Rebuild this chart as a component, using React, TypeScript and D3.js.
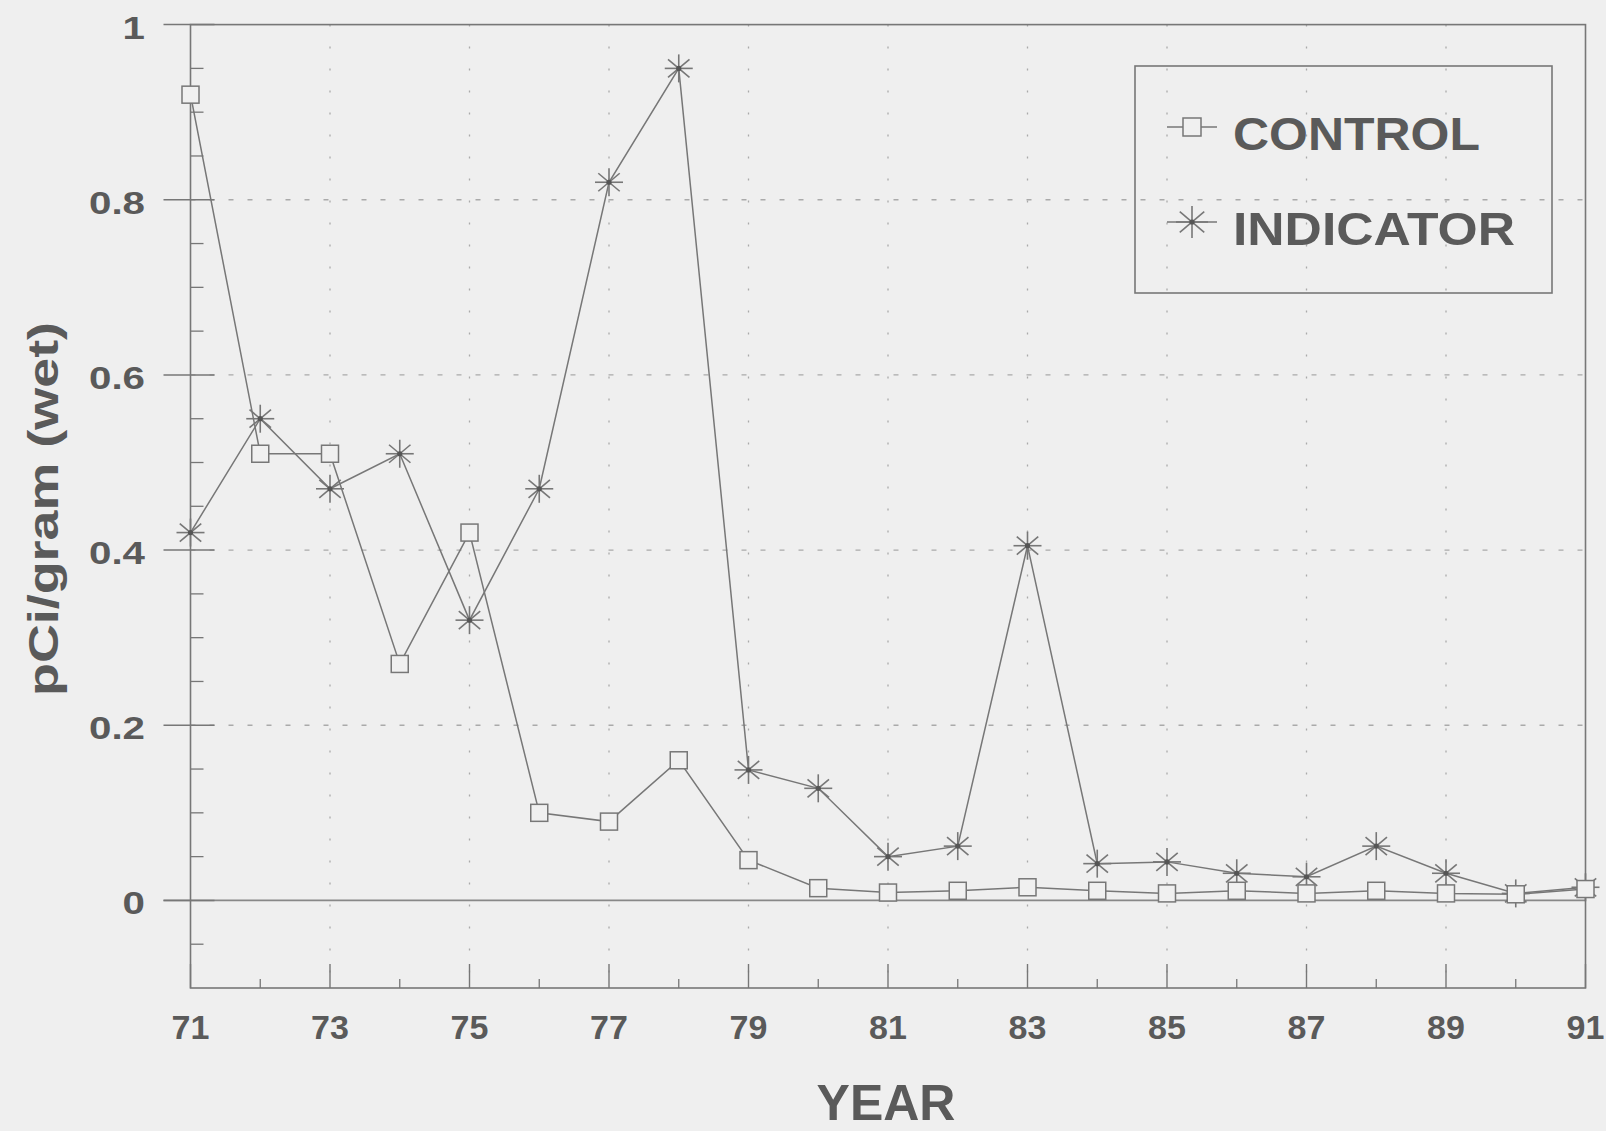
import { useEffect } from "react";
import * as d3 from "d3";

// ---- data ----
const years = [71, 72, 73, 74, 75, 76, 77, 78, 79, 80, 81, 82, 83, 84, 85, 86, 87, 88, 89, 90, 91];
const controlValues = [0.92, 0.51, 0.51, 0.27, 0.42, 0.10, 0.09, 0.16, 0.046, 0.014, 0.009, 0.011, 0.015, 0.011, 0.008, 0.011, 0.008, 0.011, 0.008, 0.007, 0.013];
const indicatorValues = [0.42, 0.55, 0.47, 0.51, 0.32, 0.47, 0.82, 0.95, 0.149, 0.128, 0.05, 0.062, 0.405, 0.042, 0.044, 0.031, 0.027, 0.062, 0.031, 0.008, 0.015];
const yTickValues = [0, 0.2, 0.4, 0.6, 0.8, 1];
const yTickLabels = ["0", "0.2", "0.4", "0.6", "0.8", "1"];
const xTickValues = [71, 73, 75, 77, 79, 81, 83, 85, 87, 89, 91];
const legendNames = ["CONTROL", "INDICATOR"];

const W = 1606;
const H = 1131;
const margin = { top: 24.6, right: 20.5, bottom: 143, left: 190.5 };

const ink = "#777";
const textCol = "#5a5a5a";
const font = "'Liberation Sans', Arial, Helvetica, sans-serif";

const Star = ({ x, y, r }: { x: number; y: number; r: number }) => {
  //8 ray asterisk
  const a = [0, 40, 90, 140].map((d) => (d * Math.PI) / 180);
  return (
    <g stroke={ink} strokeWidth={1.6}>
      {a.map((t, i) => (
        <line key={i} x1={x - r * Math.cos(t)} y1={y - r * Math.sin(t)} x2={x + r * Math.cos(t)} y2={y + r * Math.sin(t)} />
      ))}
      <circle cx={x} cy={y} r={2.6} fill="#555" stroke="none" />
    </g>
  );
};

const Square = ({ x, y, s }: { x: number; y: number; s: number }) => (
  <rect x={x - s / 2} y={y - s / 2} width={s} height={s} fill="#f0f0f0" stroke={ink} strokeWidth={1.5} />
);

const App = () => {
  useEffect(() => {
    document.body.style.margin = "0";
    document.body.style.background = "#efefef";
  }, []);

  const x = d3.scaleLinear().domain([71, 91]).range([margin.left, W - margin.right]);
  const y = d3.scaleLinear().domain([-0.1, 1]).range([H - margin.bottom, margin.top]);

  const line = d3
    .line<number>()
    .x((_, i) => x(years[i]))
    .y((d) => y(d));

  const minorY = d3.range(-0.05, 1.0, 0.05).map((d) => +d.toFixed(2)).filter((d) => !yTickValues.includes(d));
  const minorX = years.filter((d) => !xTickValues.includes(d));
  const gridX = xTickValues.slice(1, -1);
  const gridY = yTickValues.slice(1, -1);

  const x0 = x(71);
  const x1 = x(91);
  const yTop = y(1);
  const yBot = y(-0.1);

  return (
    <svg width={W} height={H} style={{ display: "block", background: "#efefef" }}>
      <rect x={0} y={0} width={W} height={H} fill="#efefef" />

      {/* grid */}
      {gridX.map((d) => (
        <line key={"gx" + d} x1={x(d)} x2={x(d)} y1={yTop} y2={yBot} stroke="#aaa" strokeWidth={1.3} strokeDasharray="2 20" />
      ))}
      {gridY.map((d) => (
        <line key={"gy" + d} x1={x0} x2={x1} y1={y(d)} y2={y(d)} stroke="#aaa" strokeWidth={1.3} strokeDasharray="5 14" />
      ))}
      <line x1={x0 - 27} x2={x1} y1={y(0)} y2={y(0)} stroke="#888" strokeWidth={1.6} />

      {/* frame */}
      <rect x={x0} y={yTop} width={x1 - x0} height={yBot - yTop} fill="none" stroke={ink} strokeWidth={1.6} />

      {/* y ticks */}
      {yTickValues.map((d) => (
        <line key={"yt" + d} x1={x0 - 27} x2={x0 + 24} y1={y(d)} y2={y(d)} stroke={ink} strokeWidth={1.5} />
      ))}
      {minorY.map((d) => (
        <line key={"ym" + d} x1={x0} x2={x0 + 13} y1={y(d)} y2={y(d)} stroke={ink} strokeWidth={1.3} />
      ))}
      {yTickValues.map((d, i) => (
        <text
          key={"yl" + d}
          transform={`translate(145,${y(d) + 14}) scale(1.26,1)`}
          textAnchor="end"
          fontFamily={font}
          fontWeight="bold"
          fontSize={32}
          fill={textCol}
        >
          {yTickLabels[i]}
        </text>
      ))}

      {/* x ticks */}
      {xTickValues.map((d) => (
        <line key={"xt" + d} x1={x(d)} x2={x(d)} y1={yBot} y2={yBot - 24} stroke={ink} strokeWidth={1.4} />
      ))}
      {minorX.map((d) => (
        <line key={"xm" + d} x1={x(d)} x2={x(d)} y1={yBot} y2={yBot - 9} stroke={ink} strokeWidth={1.3} />
      ))}
      {xTickValues.map((d) => (
        <text key={"xl" + d} x={x(d)} y={1039} textAnchor="middle" fontFamily={font} fontWeight="bold" fontSize={34} fill={textCol}>
          {d}
        </text>
      ))}

      {/* axis titles */}
      <text x={886} y={1120} textAnchor="middle" fontFamily={font} fontWeight="bold" fontSize={50} fill={textCol}>
        YEAR
      </text>
      <text
        transform="translate(58,509) rotate(-90)"
        textAnchor="middle"
        fontFamily={font}
        fontWeight="bold"
        fontSize={42}
        fill={textCol}
        textLength={374}
        lengthAdjust="spacingAndGlyphs"
      >
        pCi/gram  (wet)
      </text>

      {/* series */}
      <path d={line(controlValues) || ""} fill="none" stroke={ink} strokeWidth={1.5} />
      <path d={line(indicatorValues) || ""} fill="none" stroke={ink} strokeWidth={1.5} />
      {indicatorValues.map((d, i) => (
        <Star key={"s" + i} x={x(years[i])} y={y(d)} r={14} />
      ))}
      {controlValues.map((d, i) => (
        <Square key={"q" + i} x={x(years[i])} y={y(d)} s={17} />
      ))}

      {/* legend */}
      <rect x={1135} y={66} width={417} height={227} fill="none" stroke={ink} strokeWidth={1.6} />
      <line x1={1167} x2={1217} y1={127} y2={127} stroke={ink} strokeWidth={1.5} />
      <Square x={1192} y={127} s={18} />
      <text x={1233} y={150} fontFamily={font} fontWeight="bold" fontSize={46} fill={textCol} textLength={247} lengthAdjust="spacingAndGlyphs">
        {legendNames[0]}
      </text>
      <line x1={1167} x2={1217} y1={222} y2={222} stroke={ink} strokeWidth={1.5} />
      <Star x={1192} y={222} r={16} />
      <text x={1233} y={245} fontFamily={font} fontWeight="bold" fontSize={46} fill={textCol} textLength={282} lengthAdjust="spacingAndGlyphs">
        {legendNames[1]}
      </text>
    </svg>
  );
};

export default App;
